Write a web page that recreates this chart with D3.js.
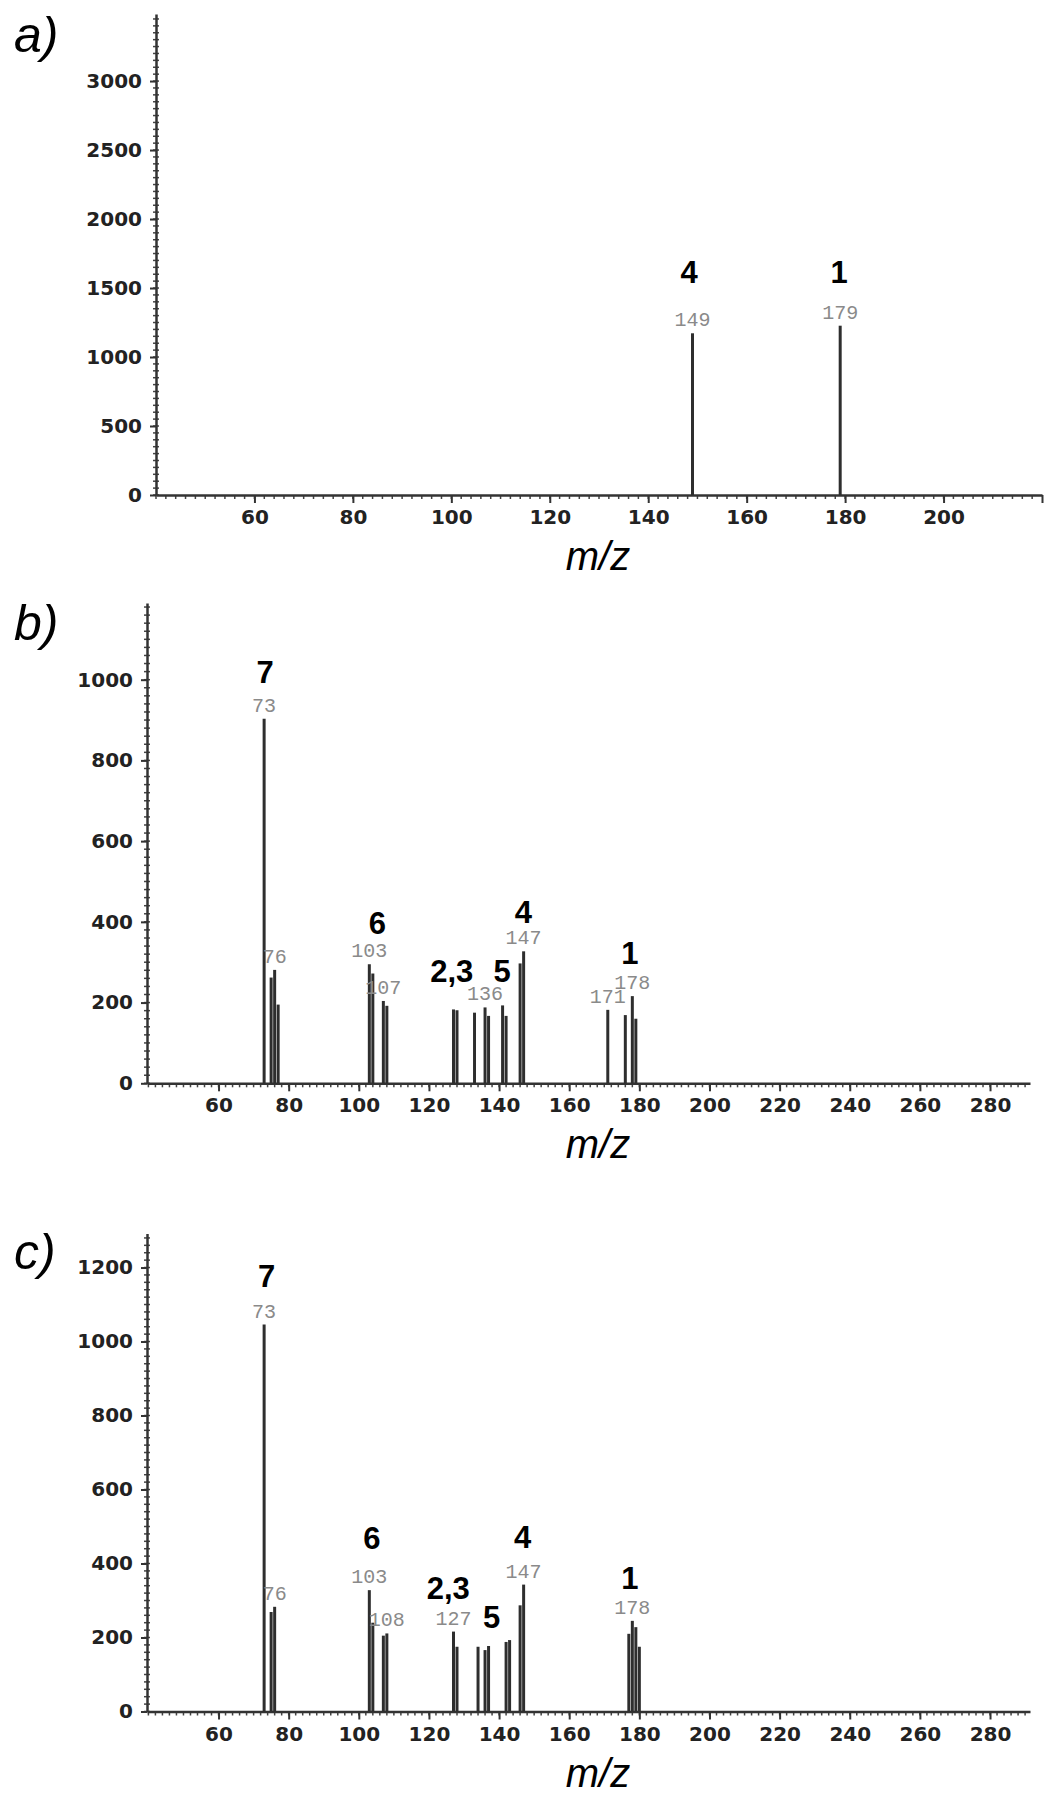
<!DOCTYPE html>
<html>
<head>
<meta charset="utf-8">
<script src="https://cdn.jsdelivr.net/npm/d3@7"></script>
<style>
  body { margin: 0; background: #fff; }
</style>
</head>
<body>
<div id="chart"></div>
<script>
// ---- panel a ----
const mzA = [149, 179];
const intA = [1172, 1227];
const tagA = [149, 179];
const cmpTextA = ['4', '1'];
const cmpMzA = [148.3, 178.8];
const cmpLevelA = [1538, 1538];
const yTicksA = [0, 500, 1000, 1500, 2000, 2500, 3000];
const xTicksA = [60, 80, 100, 120, 140, 160, 180, 200];

// ---- panel b ----
const mzB = [73, 75, 76, 77, 103, 104, 107, 108, 127, 128, 133, 136, 137, 141, 142, 146, 147, 171, 176, 178, 179];
const intB = [903, 262, 281, 195, 295, 272, 204, 192, 183, 181, 175, 188, 167, 193, 167, 297, 327, 182, 169, 216, 160];
const tagB = [73, 76, 103, 107, 136, 147, 171, 178];
const cmpTextB = ['7', '6', '2,3', '5', '4', '1'];
const cmpMzB = [73.3, 105.3, 126.5, 140.9, 146.9, 177.3];
const cmpLevelB = [991, 370, 250, 250, 398, 295];
const yTicksB = [0, 200, 400, 600, 800, 1000];

// ---- panel c ----
const mzC = [73, 75, 76, 103, 104, 107, 108, 127, 128, 134, 136, 137, 142, 143, 146, 147, 177, 178, 179, 180];
const intC = [1046, 269, 283, 328, 240, 205, 211, 216, 175, 175, 166, 177, 188, 193, 287, 343, 210, 245, 228, 175];
const tagC = [73, 76, 103, 108, 127, 147, 178];
const cmpTextC = ['7', '6', '2,3', '5', '4', '1'];
const cmpMzC = [73.7, 103.7, 125.5, 137.9, 146.7, 177.3];
const cmpLevelC = [1147, 439, 304, 226, 442, 331];
const yTicksC = [0, 200, 400, 600, 800, 1000, 1200];

const xTicksBC = [60, 80, 100, 120, 140, 160, 180, 200, 220, 240, 260, 280];

const width = 1051;
const height = 1800;

const svg = d3.select('#chart')
  .append('svg')
  .attr('width', width)
  .attr('height', height)
  .style('background', '#fff');

function drawPanel(p) {
  const g = svg.append('g');
  const x = d3.scaleLinear().domain(p.xDomain).range(p.xRange);
  const y = d3.scaleLinear().domain(p.yDomain).range(p.yRange);
  const base = y(0);

  // minor ticks on y (both sides of the axis)
  g.append('g').selectAll('line')
    .data(d3.range(0, p.yDomain[1], p.yMinor))
    .join('line')
    .attr('x1', p.xRange[0] - 3).attr('x2', p.xRange[0] + 3)
    .attr('y1', d => y(d)).attr('y2', d => y(d))
    .attr('stroke', '#444').attr('stroke-width', 1.5);

  // minor ticks on x
  g.append('g').selectAll('line')
    .data(d3.range(40, p.xDomain[1], 2))
    .join('line')
    .attr('x1', d => x(d)).attr('x2', d => x(d))
    .attr('y1', base).attr('y2', base + 4)
    .attr('stroke', '#444').attr('stroke-width', 1.5);

  // y axis
  const yAxis = g.append('g')
    .attr('transform', `translate(${p.xRange[0]},0)`)
    .call(d3.axisLeft(y).tickValues(p.yTicks).tickFormat(d3.format('d'))
      .tickSize(6).tickSizeOuter(0).tickPadding(8));

  // x axis
  const xAxis = g.append('g')
    .attr('transform', `translate(0,${base})`)
    .call(d3.axisBottom(x).tickValues(p.xTicks).tickSize(8).tickSizeOuter(0).tickPadding(7)
      .tickFormat(d => p.xLabelled.includes(d) ? d : ''));

  [yAxis, xAxis].forEach(a => {
    a.select('.domain').attr('stroke', '#333').attr('stroke-width', 2.5);
    a.selectAll('.tick line').attr('stroke', '#333').attr('stroke-width', 2);
    a.selectAll('.tick text')
      .attr('fill', '#222')
      .style('font-family', 'DejaVu Sans')
      .style('font-weight', 'bold')
      .style('font-size', '20px');
  });

  // peaks
  const peaks = p.mz.map((m, i) => ({ mz: m, v: p.int[i] }));
  g.append('g').selectAll('line')
    .data(peaks)
    .join('line')
    .attr('x1', d => x(d.mz)).attr('x2', d => x(d.mz))
    .attr('y1', base).attr('y2', d => y(d.v))
    .attr('stroke', '#2e2e2e')
    .attr('stroke-width', 3);

  // m/z labels on peaks
  g.append('g').selectAll('text')
    .data(peaks.filter(d => p.tags.includes(d.mz)))
    .join('text')
    .attr('x', d => x(d.mz))
    .attr('y', d => y(d.v) - 7)
    .attr('text-anchor', 'middle')
    .attr('fill', '#8a8a8a')
    .style('font-family', 'Liberation Mono')
    .style('font-size', '20px')
    .text(d => d.mz);

  // compound numbers
  g.append('g').selectAll('text')
    .data(p.cmpText.map((t, i) => ({ t, mz: p.cmpMz[i], v: p.cmpLevel[i] })))
    .join('text')
    .attr('x', d => x(d.mz))
    .attr('y', d => y(d.v))
    .attr('text-anchor', 'middle')
    .attr('fill', '#000')
    .style('font-family', 'Liberation Sans')
    .style('font-weight', 'bold')
    .style('font-size', '31px')
    .text(d => d.t);

  // axis title
  g.append('text')
    .attr('x', 598)
    .attr('y', base + 75)
    .attr('text-anchor', 'middle')
    .style('font-family', 'Liberation Sans')
    .style('font-style', 'italic')
    .style('font-size', '40px')
    .text('m/z');

  // panel letter
  g.append('text')
    .attr('x', 14)
    .attr('y', p.letterY)
    .style('font-family', 'Liberation Sans')
    .style('font-style', 'italic')
    .style('font-size', '50px')
    .text(p.letter + ')');
}

drawPanel({
  letter: 'a', letterY: 52,
  xDomain: [40, 220], xRange: [156, 1042],
  yDomain: [0, 3486], yRange: [495, 14],
  yTicks: yTicksA, yMinor: 50,
  xTicks: xTicksA.concat([220]), xLabelled: xTicksA,
  mz: mzA, int: intA, tags: tagA,
  cmpText: cmpTextA, cmpMz: cmpMzA, cmpLevel: cmpLevelA
});

drawPanel({
  letter: 'b', letterY: 640,
  xDomain: [39.6, 291.4], xRange: [147, 1030],
  yDomain: [0, 1190], yRange: [1083.3, 603],
  yTicks: yTicksB, yMinor: 20,
  xTicks: xTicksBC, xLabelled: xTicksBC,
  mz: mzB, int: intB, tags: tagB,
  cmpText: cmpTextB, cmpMz: cmpMzB, cmpLevel: cmpLevelB
});

drawPanel({
  letter: 'c', letterY: 1269,
  xDomain: [39.6, 291.4], xRange: [147, 1030],
  yDomain: [0, 1292], yRange: [1711.5, 1233.5],
  yTicks: yTicksC, yMinor: 20,
  xTicks: xTicksBC, xLabelled: xTicksBC,
  mz: mzC, int: intC, tags: tagC,
  cmpText: cmpTextC, cmpMz: cmpMzC, cmpLevel: cmpLevelC
});
</script>
</body>
</html>
